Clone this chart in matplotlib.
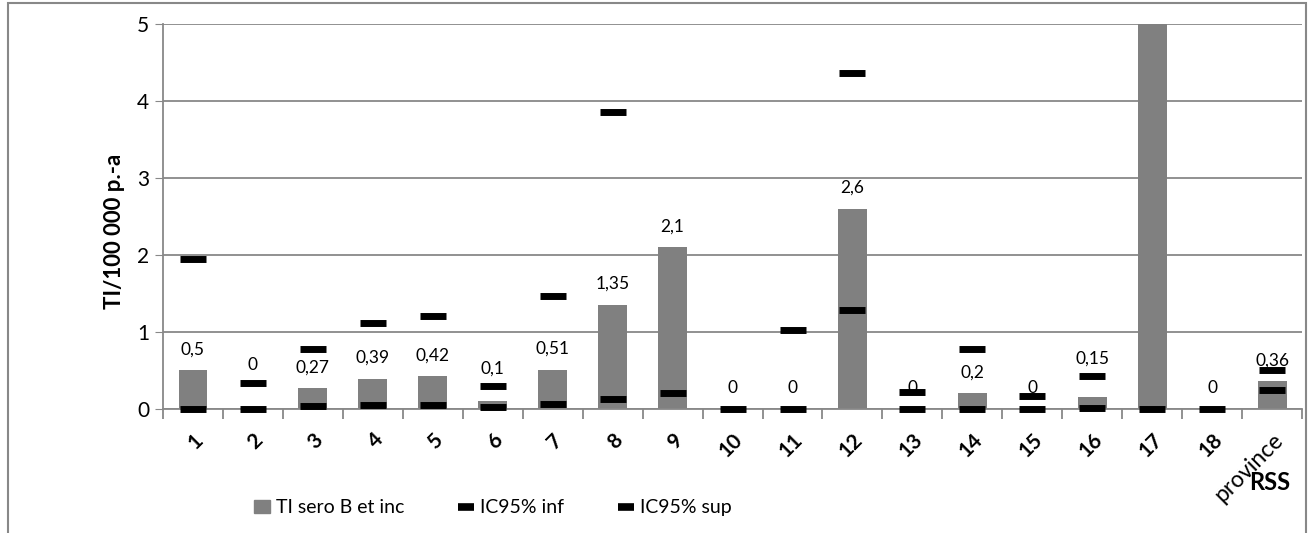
import matplotlib.pyplot as plt
from matplotlib.lines import Line2D
from matplotlib.patches import Patch, Rectangle
import matplotlib.transforms as mtransforms
import numpy as np

plt.rcParams['font.family'] = ['Lato', 'DejaVu Sans']

# données
categories = ['1', '2', '3', '4', '5', '6', '7', '8', '9', '10', '11', '12',
              '13', '14', '15', '16', '17', '18', 'province']
ti = [0.5, 0, 0.27, 0.39, 0.42, 0.1, 0.51, 1.35, 2.1, 0, 0, 2.6,
      0, 0.2, 0, 0.15, 7.2, 0, 0.36]
ic_inf = [0, 0, 0.04, 0.05, 0.05, 0.02, 0.06, 0.13, 0.2, 0, 0, 1.28,
          0, 0, 0, 0.01, 0, 0, 0.24]
ic_sup = [1.95, 0.34, 0.78, 1.11, 1.2, 0.29, 1.47, 3.85, 7.8, 9.0, 1.03, 4.36,
          0.22, 0.78, 0.16, 0.42, 25.0, 9.0, 0.5]
# étiquettes déplacées au-dessus de la borne sup (comme dans Excel)
labels_above_sup = ['2', '6', '16']

fig = plt.figure(figsize=(13.14, 5.33), dpi=100)
ax = fig.add_axes([0.124, 0.233, 0.867, 0.722])

x = np.arange(len(categories))
ax.bar(x, ti, width=0.48, color='#808080', zorder=2)
ax.plot(x, ic_inf, ls='none', marker='_', ms=19, mew=5, color='black', zorder=3,
        clip_on=False)
ax.plot(x, ic_sup, ls='none', marker='_', ms=19, mew=5, color='black', zorder=3)

# étiquettes des barres
for c, xi, v, s in zip(categories, x, ti, ic_sup):
    lab = ('%g' % v).replace('.', ',')
    if c in labels_above_sup:
        y0, dy = s, 13
    else:
        y0, dy = v, 15
    t = ax.annotate(lab, (xi, y0), xytext=(0, dy), textcoords='offset points',
                    ha='center', va='center', fontsize=12.5, zorder=4)
    t.set_clip_on(True)

ax.set_xlim(-0.5, len(categories) - 0.5)
ax.set_ylim(0, 5)
ax.set_yticks([0, 1, 2, 3, 4, 5])
ax.tick_params(axis='y', labelsize=15, length=6, color='#888888', pad=4)
ax.yaxis.grid(True, color='#888888', lw=1.3, zorder=0)
ax.set_axisbelow(True)

ax.set_xticks(x)
ax.set_xticklabels(categories, rotation=45, ha='right', rotation_mode='anchor',
                   fontsize=15, fontweight='bold')
ax.tick_params(axis='x', which='major', length=0, pad=15)
ax.set_xticks(np.arange(-0.5, len(categories)), minor=True)
ax.tick_params(axis='x', which='minor', length=7, color='#888888', width=1.3)
last = ax.get_xticklabels()[-1]
last.set_fontweight('normal')
last.set_fontsize(16.5)
trans = mtransforms.blended_transform_factory(ax.transData, ax.transAxes)
ax.text(x[-1] - 0.05, -0.192, 'RSS', transform=trans, ha='center', va='center',
        fontsize=17, fontweight='bold')

for s in ['top', 'right']:
    ax.spines[s].set_visible(False)
for s in ['left', 'bottom']:
    ax.spines[s].set_color('#888888')
    ax.spines[s].set_linewidth(1.3)

ax.set_ylabel('TI/100 000 p.-a', fontsize=16, fontweight='bold', labelpad=8)
ax.yaxis.set_label_coords(-0.033, 0.46)

handles = [Patch(color='#808080'),
           Line2D([], [], ls='none', marker='_', ms=11, mew=5.5, color='black'),
           Line2D([], [], ls='none', marker='_', ms=11, mew=5.5, color='black')]
fig.legend(handles, ['TI sero B et inc', 'IC95% inf', 'IC95% sup'],
           loc='center', bbox_to_anchor=(0.375, 0.047), ncol=3, frameon=False,
           fontsize=14, handlelength=0.8, handletextpad=0.3, columnspacing=2.8)

fig.patches.append(Rectangle((0.006, -0.1), 0.988, 1.094, transform=fig.transFigure,
                             fill=False, edgecolor='#888888', lw=1.5))

fig.savefig('out.png', dpi=100)
